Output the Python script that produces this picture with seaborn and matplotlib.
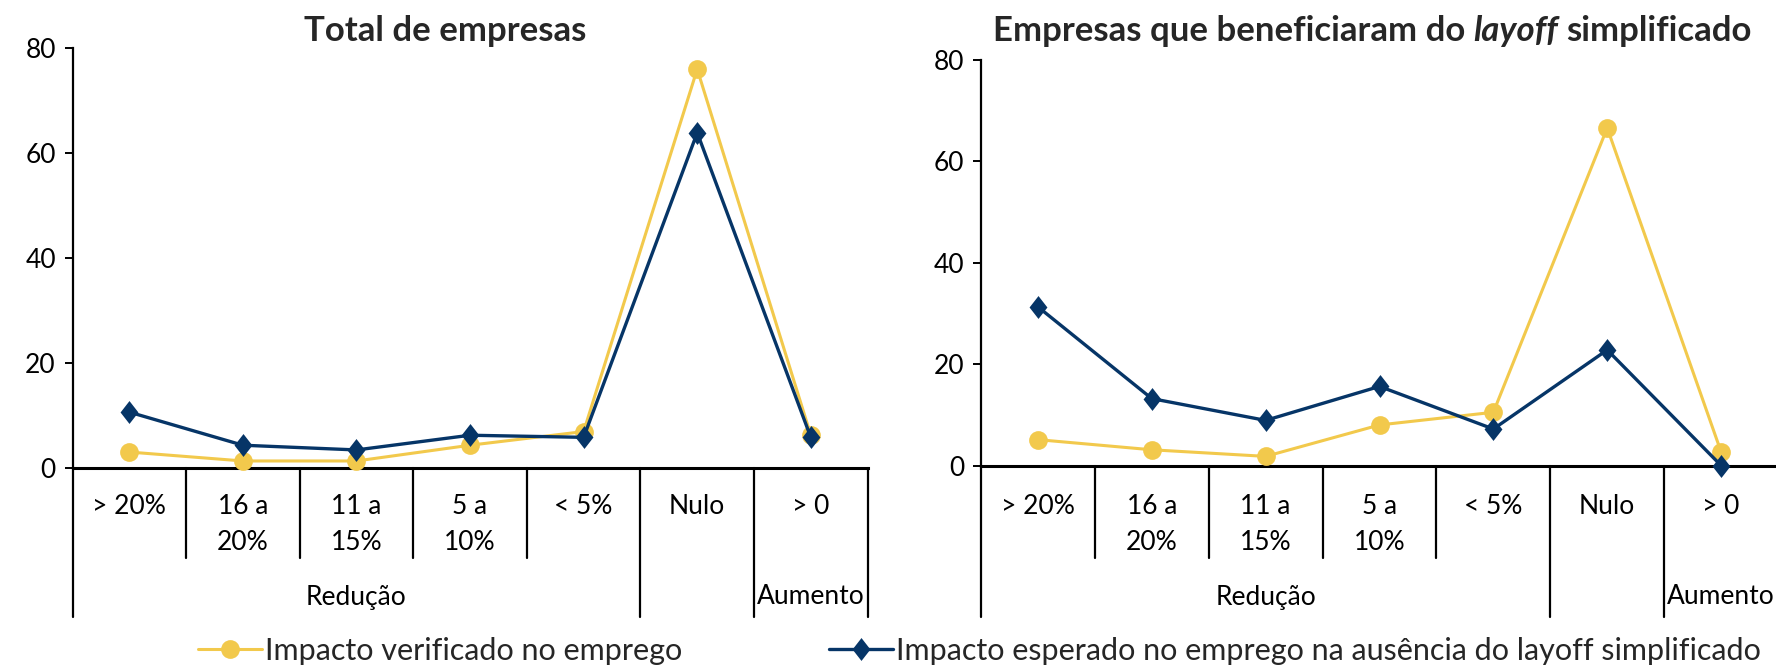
import numpy as np
import pandas as pd
import matplotlib
matplotlib.use("Agg")
import matplotlib.pyplot as plt
import matplotlib.transforms as mtransforms
import seaborn as sns

# ---- data ---------------------------------------------------------------
categories = ["> 20%", "16 a\n20%", "11 a\n15%", "5 a\n10%", "< 5%", "Nulo", "> 0"]
groups = [("Redução", 5), ("", 1), ("Aumento", 1)]

total_verificado = [3.0, 1.3, 1.3, 4.3, 6.9, 75.9, 6.2]
total_esperado = [10.6, 4.3, 3.4, 6.2, 5.8, 63.8, 5.8]

layoff_verificado = [5.1, 3.1, 1.8, 8.0, 10.5, 66.6, 2.7]
layoff_esperado = [31.3, 13.2, 8.9, 15.6, 7.2, 22.8, 0.0]

label_verificado = "Impacto verificado no emprego"
label_esperado = "Impacto esperado no emprego na ausência do layoff simplificado"
yticks = [0, 20, 40, 60, 80]

# ---- style --------------------------------------------------------------
YELLOW = "#F2C94C"
NAVY = "#063567"
sns.set_style("white")
plt.rcParams["font.family"] = ["Lato", "DejaVu Sans"]
FS = 19

W, H = 1776, 665
fig = plt.figure(figsize=(W / 100, H / 100), dpi=100)

def frac_x(px):
    return px / W

def frac_y(px):
    return 1 - px / H

# axes boxes in pixels: left, right, top(80), bottom(0)
boxes = [(72.5, 867.6, 47.6, 467.8), (981.0, 1778.0, 60.0, 465.5)]
series = [(total_verificado, total_esperado), (layoff_verificado, layoff_esperado)]

diamond = [(0, -1), (0.78, 0), (0, 1), (-0.78, 0), (0, -1)]

axes = []
for (l, r, t, b), (verif, esper) in zip(boxes, series):
    ax = fig.add_axes([frac_x(l), frac_y(b), frac_x(r - l), (b - t) / H])
    df = pd.DataFrame({"pos": np.arange(len(categories)),
                       "verificado": verif, "esperado": esper})
    sns.lineplot(data=df, x="pos", y="verificado", ax=ax, color=YELLOW,
                 marker="o", markersize=13.5, markeredgewidth=0,
                 linewidth=2.2, label=label_verificado, legend=False,
                 clip_on=False, zorder=3)
    sns.lineplot(data=df, x="pos", y="esperado", ax=ax, color=NAVY,
                 marker=diamond, markersize=16.5, markeredgewidth=0,
                 linewidth=2.4, label=label_esperado, legend=False,
                 clip_on=False, zorder=4)
    ax.set_xlim(-0.5, len(categories) - 0.5)
    ax.set_ylim(0, 80)
    ax.set_yticks(yticks)
    ax.set_xticks([])
    ax.set_xlabel("")
    ax.set_ylabel("")
    for s in ["top", "right"]:
        ax.spines[s].set_visible(False)
    ax.spines["left"].set_linewidth(1.6)
    ax.spines["bottom"].set_linewidth(2.2)
    ax.spines["left"].set_color("black")
    ax.spines["bottom"].set_color("black")
    ax.tick_params(axis="y", direction="out", length=6, width=1.4,
                   color="black", labelsize=FS, pad=6, left=True,
                   labelcolor="black")
    ax.patch.set_alpha(0)
    axes.append((ax, b))

# ---- multi-level category axis ---------------------------------------------
row1_y, row2_y, group_y = 506, 543, 597
short_end, long_end = 558, 617
for ax, b in axes:
    tr = mtransforms.blended_transform_factory(ax.transData, fig.transFigure)
    for i, cat in enumerate(categories):
        lines = cat.split("\n")
        for j, line in enumerate(lines):
            ax.text(i, frac_y(row1_y if j == 0 else row2_y), line,
                    transform=tr, ha="center", va="center", fontsize=FS,
                    color="black", clip_on=False)
    # boundaries
    long_bounds = [-0.5]
    start = 0
    for name, n in groups:
        end = start + n
        long_bounds.append(end - 0.5)
        if name:
            ax.text((start + end - 1) / 2, frac_y(group_y), name,
                    transform=tr, ha="center", va="center", fontsize=FS,
                    color="black", clip_on=False)
        start = end
    for k in range(len(categories) + 1):
        xb = k - 0.5
        yend = long_end if xb in long_bounds else short_end
        ax.plot([xb, xb], [frac_y(b), frac_y(yend)], transform=tr,
                color="black", linewidth=1.6, clip_on=False)

# ---- titles ---------------------------------------------------------------
TFS = 25
base_y = frac_y(41)
fig.text(frac_x(445), base_y, "Total de empresas", ha="center",
         va="baseline", fontsize=TFS, fontweight="bold")
t1 = fig.text(frac_x(993), base_y, "Empresas que beneficiaram do",
              ha="left", va="baseline", fontsize=TFS, fontweight="bold")
t2 = fig.add_artist(plt.Annotation("layoff", xy=(1, 0), xycoords=t1,
                                   xytext=(8, 0), textcoords="offset pixels",
                                   ha="left", va="bottom", fontsize=TFS,
                                   fontweight="bold", fontstyle="italic"))
t3 = fig.add_artist(plt.Annotation("simplificado", xy=(1, 0), xycoords=t2,
                                   xytext=(8, 0), textcoords="offset pixels",
                                   ha="left", va="bottom", fontsize=TFS,
                                   fontweight="bold"))

# ---- legend ---------------------------------------------------------------
handles = axes[0][0].get_lines()[:2]
LFS = 22
fig.legend(handles, [label_verificado, label_esperado], loc="center left",
           bbox_to_anchor=(frac_x(198), frac_y(651)), ncol=2, frameon=False,
           fontsize=LFS, handlelength=2.1, handletextpad=0.1,
           columnspacing=4.8, borderpad=0, borderaxespad=0)

fig.savefig("out.png", dpi=100)
